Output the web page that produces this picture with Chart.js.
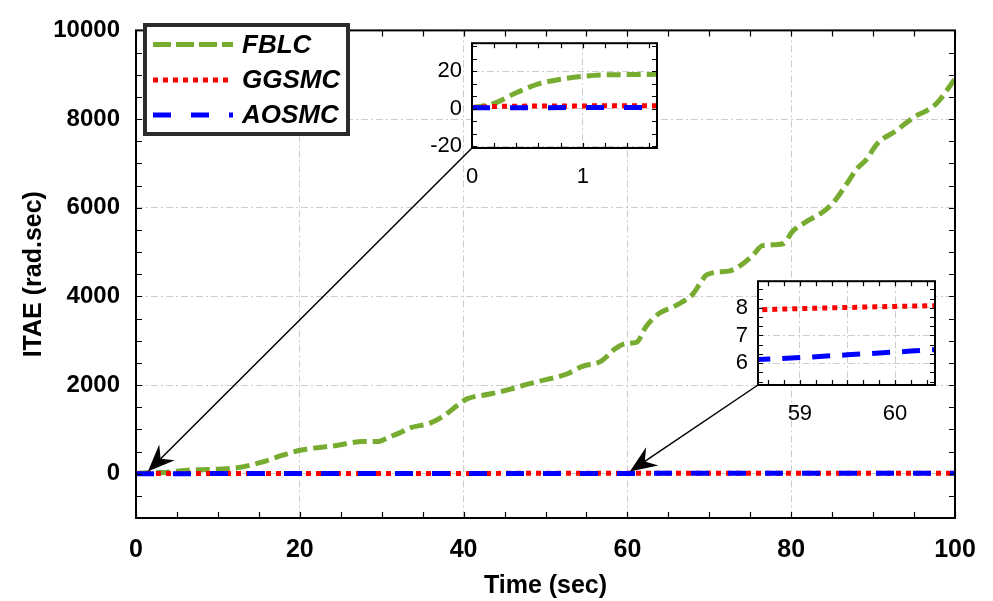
<!DOCTYPE html>
<html>
<head>
<meta charset="utf-8">
<script src="https://cdn.jsdelivr.net/npm/chart.js@4.4.1/dist/chart.umd.min.js"></script>
<style>
  html, body { margin: 0; padding: 0; background: #fff; }
  #quadro { position: relative; width: 993px; height: 601px; }
  #quadro canvas { position: absolute; }
</style>
</head>
<body>
<div id="quadro">
  <canvas id="principal"></canvas>
  <canvas id="zoomInicio"></canvas>
  <canvas id="zoomMeio"></canvas>
</div>
<script>
// ---- dados ----
const fblcTime = [0, 0.2, 0.4, 0.6, 0.8, 1.0, 1.2, 1.67, 3, 7.4, 11.5, 15.5, 17.2, 20, 24.5, 27.7, 29.4,
    31, 32.2, 33.4, 35.9, 37.5, 39.5, 40.4, 43.2, 45.7, 47.7, 49.3, 52.6, 54.4, 56.8, 58.5, 59.9, 61.1,
    62.3, 63.9, 66, 68, 68.8, 69.7, 72.5, 73.7, 75.3, 76.5, 79, 80.2, 81.9, 83.9, 85.1, 86.8, 88, 89.2,
    90.5, 92.9, 94.1, 95.3, 96.5, 97.8, 99, 100];
const fblcItae = [0.5, 2.9, 8.5, 13.3, 15.7, 17.3, 18.1, 18.4, 25, 90, 115, 265, 374, 527, 637, 724, 724,
    834, 921, 1031, 1140, 1293, 1578, 1687, 1796, 1906, 2013, 2087, 2249, 2416, 2540, 2817, 2939, 2961,
    3326, 3617, 3801, 4055, 4269, 4487, 4575, 4684, 4925, 5144, 5187, 5472, 5690, 5909, 6106, 6544, 6873, 7092,
    7442, 7748, 7924, 8077, 8186, 8361, 8646, 8909];

const smcTime = [0, 0.2, 0.6, 1, 1.67, 10, 20, 30, 40, 50, 58.5, 59, 59.5, 60, 60.5, 70, 80, 90, 100];
const ggsmcItae = [0.6, 1.2, 1.4, 1.5, 1.6, 3.0, 4.2, 5.3, 6.3, 7.2, 7.92, 7.97, 8.01, 8.05, 8.08, 8.7, 9.3, 9.9, 10.5];
const aosmcItae = [0.5, 0.5, 0.55, 0.6, 0.6, 1.5, 2.5, 3.5, 4.5, 5.4, 6.12, 6.2, 6.3, 6.4, 6.5, 7.3, 8.0, 8.6, 9.2];

const seriesLabels = ["FBLC", "GGSMC", "AOSMC"];

const xTicks = [0, 20, 40, 60, 80, 100];
const yTicks = [0, 2000, 4000, 6000, 8000, 10000];
const zoomInicioXTicks = [0, 1];
const zoomInicioYTicks = [-20, 0, 20];
const zoomMeioXTicks = [59, 59.5, 60];
const zoomMeioYTicks = [6, 7, 8];

// setas: ponta em coordenadas dos dados do gráfico principal
const setaPontaX = [1.45, 60.3];
const setaPontaY = [50, 50];

// ---- aparência ----
Chart.defaults.font.family = "'Liberation Sans', Arial, Helvetica, sans-serif";
Chart.defaults.color = "#000";

const CORES = ["#77ac30", "#ff0000", "#0000ff"];
const GRADE = { color: "#cccccc", lineWidth: 1, drawTicks: false };
const TRACO_GRADE = { display: false, dash: [7, 3, 2, 3] };

function pontos(tempo, valores) {
    return tempo.map((t, i) => ({ x: t, y: valores[i] }));
}

function montarSeries(tracoAzul) {
    const dados = [pontos(fblcTime, fblcItae), pontos(smcTime, ggsmcItae), pontos(smcTime, aosmcItae)];
    const tracos = [[14, 6], [5, 5], tracoAzul];
    return dados.map((d, i) => ({
        label: seriesLabels[i],
        data: d,
        order: 2 - i,   // azul por cima, como no original
        borderColor: CORES[i],
        backgroundColor: CORES[i],
        borderWidth: 5,
        borderDash: tracos[i],
        borderCapStyle: "butt",
        showLine: true,
        pointRadius: 0,
        fill: false,
        clip: 0,
        cubicInterpolationMode: "monotone"
    }));
}

function fixarTicks(lista) {
    return scale => { scale.ticks = lista.map(v => ({ value: v })); };
}

// moldura preta com marcas para dentro, nos quatro lados
const moldura = {
    id: "moldura",
    beforeDraw(chart, args, opts) {
        if (!opts.fundo) return;
        const a = chart.chartArea, ctx = chart.ctx;
        ctx.save();
        ctx.fillStyle = "#fff";
        ctx.fillRect(a.left, a.top, a.right - a.left, a.bottom - a.top);
        ctx.restore();
    },
    afterDraw(chart, args, opts) {
        const a = chart.chartArea, ctx = chart.ctx;
        const sx = chart.scales.x, sy = chart.scales.y;
        const len = opts.len || 6;
        ctx.save();
        ctx.strokeStyle = "#000";
        ctx.lineWidth = 1.2;
        ctx.beginPath();
        for (let k = Math.ceil(sx.min / opts.xStep - 1e-6); k * opts.xStep <= sx.max + 1e-6; k++) {
            const px = Math.round(sx.getPixelForValue(k * opts.xStep)) + 0.5;
            ctx.moveTo(px, a.bottom); ctx.lineTo(px, a.bottom - len);
            ctx.moveTo(px, a.top); ctx.lineTo(px, a.top + len);
        }
        for (let k = Math.ceil(sy.min / opts.yStep - 1e-6); k * opts.yStep <= sy.max + 1e-6; k++) {
            const py = Math.round(sy.getPixelForValue(k * opts.yStep)) + 0.5;
            ctx.moveTo(a.left, py); ctx.lineTo(a.left + len, py);
            ctx.moveTo(a.right, py); ctx.lineTo(a.right - len, py);
        }
        ctx.stroke();
        ctx.lineWidth = 2;
        ctx.strokeRect(a.left, a.top, a.right - a.left, a.bottom - a.top);
        ctx.restore();
    }
};

// legenda desenhada dentro da área, com borda grossa
const legendaCaixa = {
    id: "legendaCaixa",
    afterDraw(chart) {
        const ctx = chart.ctx;
        ctx.save();
        ctx.fillStyle = "#fff";
        ctx.fillRect(143, 23, 207, 113);
        ctx.strokeStyle = "#2b2b2b";
        ctx.lineWidth = 4;
        ctx.strokeRect(145, 25, 203, 109);
        const linhas = [44.5, 80, 115];
        const tracos = [[18, 5], [5, 5], [18, 20]];
        chart.data.datasets.forEach((ds, i) => {
            ctx.strokeStyle = ds.borderColor;
            ctx.lineWidth = 5;
            ctx.setLineDash(tracos[i]);
            ctx.beginPath();
            ctx.moveTo(153, linhas[i]);
            ctx.lineTo(233, linhas[i]);
            ctx.stroke();
            ctx.setLineDash([]);
            ctx.fillStyle = "#000";
            ctx.font = "italic bold 26px 'Liberation Sans', Arial, sans-serif";
            ctx.textBaseline = "middle";
            ctx.fillText(ds.label, 242, linhas[i] + 1);
        });
        ctx.restore();
    }
};

function desenharSeta(ctx, x0, y0, x1, y1) {
    const ang = Math.atan2(y1 - y0, x1 - x0);
    ctx.beginPath();
    ctx.moveTo(x0, y0);
    ctx.lineTo(x1 - 18 * Math.cos(ang), y1 - 18 * Math.sin(ang));
    ctx.stroke();
    ctx.save();
    ctx.translate(x1, y1);
    ctx.rotate(ang);
    ctx.beginPath();
    ctx.moveTo(0, 0);
    ctx.lineTo(-27, -11);
    ctx.lineTo(-18, 0);
    ctx.lineTo(-27, 11);
    ctx.closePath();
    ctx.fill();
    ctx.restore();
}

const ZOOMS = [
    { id: "zoomInicio", area: { left: 472, top: 32, right: 657, bottom: 148 } },
    { id: "zoomMeio", area: { left: 758, top: 270, right: 935, bottom: 385 } }
];

const setas = {
    id: "setas",
    afterDraw(chart) {
        const ctx = chart.ctx, sx = chart.scales.x, sy = chart.scales.y;
        ctx.save();
        ctx.strokeStyle = "#000";
        ctx.fillStyle = "#000";
        ctx.lineWidth = 1.5;
        ZOOMS.forEach((z, i) => {
            desenharSeta(ctx, z.area.left, z.area.bottom,
                sx.getPixelForValue(setaPontaX[i]), sy.getPixelForValue(setaPontaY[i]));
        });
        ctx.restore();
    }
};

function criarPrincipal() {
    const cv = document.getElementById("principal");
    cv.width = 993; cv.height = 601;
    cv.style.left = "0px"; cv.style.top = "0px";
    new Chart(cv, {
        type: "scatter",
        data: { datasets: montarSeries([18, 19]) },
        options: {
            responsive: false,
            animation: false,
            devicePixelRatio: 1,
            layout: { padding: { left: 0, top: 15, right: 38, bottom: 0 } },
            plugins: {
                legend: { display: false },
                tooltip: { enabled: false },
                moldura: { xStep: 5, yStep: 500, len: 6 }
            },
            scales: {
                x: {
                    type: "linear", min: 0, max: 100,
                    afterBuildTicks: fixarTicks(xTicks),
                    afterFit: s => { s.height = 83; },
                    ticks: { autoSkip: false, maxRotation: 0, padding: 17, font: { size: 25, weight: "bold" }, callback: v => String(v) },
                    grid: GRADE, border: TRACO_GRADE,
                    title: { display: true, text: "Time (sec)", font: { size: 25, weight: "bold", lineHeight: 1 }, padding: { top: 0, bottom: 2 } }
                },
                y: {
                    type: "linear", min: -1000, max: 10000,
                    afterBuildTicks: fixarTicks(yTicks),
                    afterFit: s => { s.width = 136; },
                    ticks: { autoSkip: false, padding: 16, font: { size: 24, weight: "bold" }, callback: v => String(v) },
                    grid: GRADE, border: TRACO_GRADE,
                    title: { display: true, text: "ITAE (rad.sec)", font: { size: 25, weight: "bold", lineHeight: 1 }, padding: { top: 22, bottom: 0 } }
                }
            }
        },
        plugins: [moldura, setas, legendaCaixa]
    });
}

function criarZoom(z, limites, ticksX, ticksY, passos, tracoAzul) {
    const cv = document.getElementById(z.id);
    const esq = 60, topo = 12, dir = 14, baixo = 50;
    cv.width = (z.area.right - z.area.left) + esq + dir;
    cv.height = (z.area.bottom - z.area.top) + topo + baixo;
    cv.style.left = (z.area.left - esq) + "px";
    cv.style.top = (z.area.top - topo) + "px";
    new Chart(cv, {
        type: "scatter",
        data: { datasets: montarSeries(tracoAzul) },
        options: {
            responsive: false,
            animation: false,
            devicePixelRatio: 1,
            layout: { padding: { left: 0, top: topo, right: dir, bottom: 0 } },
            plugins: {
                legend: { display: false },
                tooltip: { enabled: false },
                moldura: { xStep: passos[0], yStep: passos[1], len: 5, fundo: true }
            },
            scales: {
                x: {
                    type: "linear", min: limites[0], max: limites[1],
                    afterBuildTicks: fixarTicks(ticksX),
                    afterFit: s => { s.height = baixo; },
                    ticks: { autoSkip: false, maxRotation: 0, padding: 16, font: { size: 22 },
                        callback: v => Number.isInteger(v) ? String(v) : "" },
                    grid: GRADE, border: TRACO_GRADE
                },
                y: {
                    type: "linear", min: limites[2], max: limites[3],
                    afterBuildTicks: fixarTicks(ticksY),
                    afterFit: s => { s.width = esq; },
                    ticks: { autoSkip: false, padding: 10, font: { size: 22 }, callback: v => String(v) },
                    grid: GRADE, border: TRACO_GRADE
                }
            }
        },
        plugins: [moldura]
    });
}

window.onload = () => {
    criarPrincipal();
    criarZoom(ZOOMS[0], [0, 1.67, -21, 35], zoomInicioXTicks, zoomInicioYTicks, [0.2, 20 / 3], [18, 20]);
    criarZoom(ZOOMS[1], [58.56, 60.42, 5.21, 8.96], zoomMeioXTicks, zoomMeioYTicks, [1 / 6, 1 / 3], [18, 12]);
};
</script>
</body>
</html>
